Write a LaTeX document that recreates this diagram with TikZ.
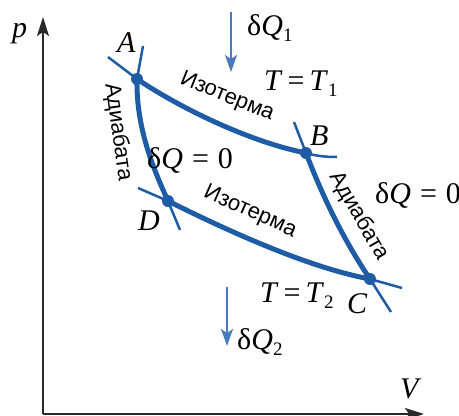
\documentclass[tikz,border=0pt]{standalone}
\usepackage{fontspec}
\setmainfont{Liberation Serif}
\newfontfamily\cyrsans{Liberation Sans}
\usetikzlibrary{arrows.meta}
\definecolor{curveblue}{RGB}{30,92,165}
\definecolor{arrowblue}{RGB}{72,122,188}
\definecolor{axisgray}{RGB}{40,40,40}
\newcommand{\subs}[1]{\raisebox{-0.22em}{\fontsize{19}{19}\selectfont #1}}
\newcommand{\eqsp}{\hspace{0.3em}=\hspace{0.3em}}
\tikzset{
  axisline/.style={draw=axisgray,line width=2pt,-{Stealth[length=19pt,width=12pt,inset=4pt]}},
  thickcurve/.style={draw=curveblue,line width=5pt},
  thincurve/.style={draw=curveblue,line width=2.5pt},
  heatarrow/.style={draw=arrowblue,line width=2pt,-{Stealth[length=17pt,width=12pt,inset=4pt]}},
  statedot/.style={circle,fill=curveblue,inner sep=0pt,minimum size=12pt},
  mathlabel/.style={font=\fontsize{30}{32}\selectfont,inner sep=0pt,anchor=base west},
  curvelabel/.style={font=\cyrsans\fontsize{22}{24}\selectfont,inner sep=0pt}
}
\begin{document}
\begin{tikzpicture}[x=1pt,y=-1pt]
\useasboundingbox (0,0) rectangle (459,416);
% axes
\coordinate (O) at (43,414);
\coordinate (ptip) at (43,17);
\coordinate (vtip) at (424,414);
\draw[axisline] (O) -- (ptip);
\draw[axisline] (O) -- (vtip);
\node[mathlabel] (plabel) at (12,37) {\textit{p}};
\node[mathlabel] (vlabel) at (400,398) {\textit{V}};
% state points
\coordinate (A) at (137,79);
\coordinate (B) at (306,153);
\coordinate (C) at (370,279);
\coordinate (D) at (168,201);
% extension ends
\coordinate (iAe) at (108,57);
\coordinate (iBe) at (337,157);
\coordinate (iDe) at (138,188);
\coordinate (iCe) at (402,288);
\coordinate (aAe) at (143,46);
\coordinate (aDe) at (180,230);
\coordinate (aBe) at (294,122);
\coordinate (aCe) at (391,312);
% thin extensions
\draw[thincurve] (iAe) -- (A);
\draw[thincurve] (B) .. controls (316,156) and (326,157) .. (iBe);
\draw[thincurve] (iDe) -- (D);
\draw[thincurve] (C) -- (iCe);
\draw[thincurve] (aAe) -- (A);
\draw[thincurve] (D) -- (aDe);
\draw[thincurve] (aBe) -- (B);
\draw[thincurve] (C) -- (aCe);
% thick cycle
\draw[thickcurve] (A) .. controls (180,108) and (250,142) .. (B);
\draw[thickcurve] (B) .. controls (324,200) and (345,242) .. (C);
\draw[thickcurve] (D) .. controls (230,232) and (310,268) .. (C);
\draw[thickcurve] (A) .. controls (136,130) and (155,172) .. (D);
% dots
\node[statedot] (dA) at (A) {};
\node[statedot] (dB) at (B) {};
\node[statedot] (dC) at (C) {};
\node[statedot] (dD) at (D) {};
% point labels
\node[mathlabel] (lA) at (117,52) {\textit{A}};
\node[mathlabel] (lB) at (310,145) {\textit{B}};
\node[mathlabel] (lC) at (347,313) {\textit{C}};
\node[mathlabel] (lD) at (138,230) {\textit{D}};
% curve labels
\node[curvelabel,rotate=-22] (iso1) at (227,97) {Изотерма};
\node[curvelabel,rotate=-24] (iso2) at (250,212) {Изотерма};
\node[curvelabel,rotate=-82] (ad1) at (118,132) {Адиабата};
\node[curvelabel,rotate=-60] (ad2) at (359,216) {Адиабата};
% heat labels
\node[mathlabel] (dq0a) at (147,168) {δ\textit{Q}\eqsp 0};
\node[mathlabel] (dq0b) at (375,203) {δ\textit{Q}\eqsp 0};
\node[mathlabel] (T1) at (264,90) {\textit{T}\,=\,\textit{T}\subs{1}};
\node[mathlabel] (T2) at (260,302) {\textit{T}\,=\,\textit{T}\subs{2}};
\node[mathlabel] (dq1) at (247,35) {δ\textit{Q}\subs{1}};
\node[mathlabel] (dq2) at (237,349) {δ\textit{Q}\subs{2}};
% heat arrows
\coordinate (h1s) at (231,12);
\coordinate (h1e) at (231,72);
\coordinate (h2s) at (227,287);
\coordinate (h2e) at (227,346);
\draw[heatarrow] (h1s) -- (h1e);
\draw[heatarrow] (h2s) -- (h2e);
\end{tikzpicture}
\end{document}
